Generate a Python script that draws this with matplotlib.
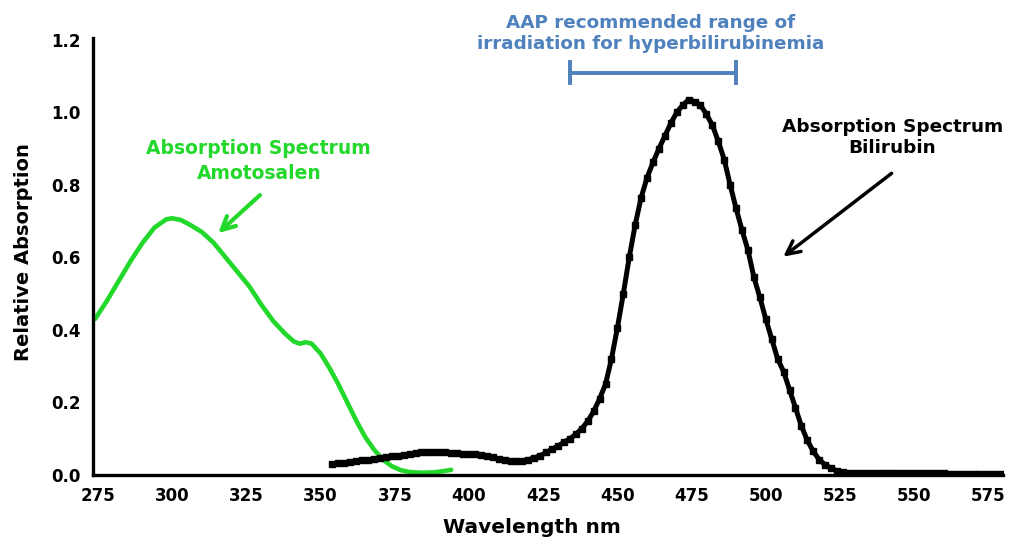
import matplotlib
matplotlib.use("Agg")
import matplotlib.pyplot as plt

# Bilirubin absorption spectrum, one point every 2 nm
bili_nm = list(range(354, 582, 2))
bili_abs = [
    0.030, 0.032, 0.034, 0.036, 0.038,
    0.040, 0.042, 0.044, 0.047, 0.049,
    0.051, 0.053, 0.055, 0.058, 0.060,
    0.062, 0.063, 0.063, 0.063, 0.062,
    0.061, 0.060, 0.059, 0.058, 0.057,
    0.056, 0.053, 0.049, 0.044, 0.040,
    0.037, 0.037, 0.039, 0.042, 0.047,
    0.053, 0.062, 0.071, 0.080, 0.090,
    0.100, 0.112, 0.128, 0.148, 0.175,
    0.210, 0.250, 0.320, 0.405, 0.500,
    0.600, 0.690, 0.765, 0.820, 0.862,
    0.900, 0.935, 0.970, 1.000, 1.020,
    1.035, 1.030, 1.020, 0.995, 0.965,
    0.920, 0.870, 0.800, 0.735, 0.675,
    0.620, 0.545, 0.490, 0.430, 0.375,
    0.320, 0.285, 0.235, 0.185, 0.135,
    0.095, 0.065, 0.042, 0.028, 0.018,
    0.011, 0.008, 0.006, 0.005, 0.005,
    0.004, 0.004, 0.004, 0.004, 0.004,
    0.004, 0.004, 0.004, 0.004, 0.004,
    0.004, 0.004, 0.004, 0.004, 0.003,
    0.003, 0.003, 0.003, 0.003, 0.003,
    0.003, 0.003, 0.003, 0.003,
]

# Amotosalen absorption spectrum
amoto_nm = [274, 278, 282, 286, 290, 294, 298, 300, 303, 306, 310, 314, 318,
            322, 326, 330, 334, 338, 341, 343, 345, 347, 350, 353, 356, 359,
            362, 365, 368, 371, 374, 377, 380, 384, 388, 391, 394]
amoto_abs = [0.430, 0.480, 0.535, 0.590, 0.640, 0.682, 0.705, 0.708, 0.703,
             0.690, 0.670, 0.640, 0.600, 0.560, 0.520, 0.470, 0.425, 0.390,
             0.368, 0.362, 0.366, 0.362, 0.335, 0.295, 0.250, 0.200, 0.150,
             0.105, 0.070, 0.042, 0.024, 0.013, 0.008, 0.006, 0.007, 0.010,
             0.014]

# AAP recommended phototherapy band (nm)
aap_range = (434, 490)

x_ticks = [275, 300, 325, 350, 375, 400, 425, 450, 475, 500, 525, 550, 575]
y_ticks = [0.0, 0.2, 0.4, 0.6, 0.8, 1.0, 1.2]

GREEN = "#22d82a"
BLUE = "#4f81bd"
FONT = "DejaVu Sans"

fig = plt.figure(figsize=(10.1, 5.44), dpi=100)
ax = fig.add_axes([0.092, 0.127, 0.901, 0.803])

ax.plot(amoto_nm, amoto_abs, color=GREEN, linewidth=3.3, solid_capstyle="round",
        solid_joinstyle="round", zorder=3)
ax.plot(bili_nm, bili_abs, color="black", linewidth=3.6, marker="s",
        markersize=4.5, markeredgewidth=1.0, zorder=4)

# bracket for the AAP range
y_br = 1.11
ax.plot(aap_range, [y_br, y_br], color=BLUE, linewidth=2.8, clip_on=False)
for xb in aap_range:
    ax.plot([xb, xb], [y_br - 0.03, y_br + 0.03], color=BLUE, linewidth=2.8,
            clip_on=False)

ax.text(461.3, 1.218, "AAP recommended range of\nirradiation for hyperbilirubinemia",
        color=BLUE, fontsize=13.2, fontweight="bold", family=FONT,
        ha="center", va="center", linespacing=1.2, clip_on=False)

# curve labels and their arrows
ax.text(329.2, 0.865, "Absorption Spectrum\nAmotosalen", color=GREEN,
        fontsize=13.5, fontweight="bold", family=FONT, ha="center",
        va="center", linespacing=1.4)
ax.annotate("", xy=(315.5, 0.667), xytext=(329.6, 0.772),
            arrowprops=dict(arrowstyle="->", color=GREEN, lw=3,
                            mutation_scale=24, shrinkA=0, shrinkB=0))

ax.text(542.7, 0.93, "Absorption Spectrum\nBilirubin", color="black",
        fontsize=13.3, fontweight="bold", family=FONT, ha="center",
        va="center", linespacing=1.2)
ax.annotate("", xy=(505.9, 0.602), xytext=(542.4, 0.832),
            arrowprops=dict(arrowstyle="->", color="black", lw=2.5,
                            mutation_scale=24, shrinkA=0, shrinkB=0))

ax.set_xlim(273.3, 579.9)
ax.set_ylim(0, 1.205)
ax.set_xticks(x_ticks)
ax.set_yticks(y_ticks)
ax.set_xticklabels([str(v) for v in x_ticks])
ax.set_yticklabels([f"{v:.1f}" for v in y_ticks])
ax.tick_params(length=0, labelsize=12, pad=9)
for lab in ax.get_xticklabels() + ax.get_yticklabels():
    lab.set_fontweight("bold")
    lab.set_family(FONT)

for side in ["top", "right"]:
    ax.spines[side].set_visible(False)
for side in ["left", "bottom"]:
    ax.spines[side].set_linewidth(2.4)
    ax.spines[side].set_zorder(5)

ax.set_xlabel("Wavelength nm", fontsize=14.5, fontweight="bold", family=FONT)
ax.xaxis.set_label_coords(0.482, -0.098)
ax.set_ylabel("Relative Absorption", fontsize=14, fontweight="bold", family=FONT)
ax.yaxis.set_label_coords(-0.066, 0.51)

fig.savefig("out.png", dpi=100)
